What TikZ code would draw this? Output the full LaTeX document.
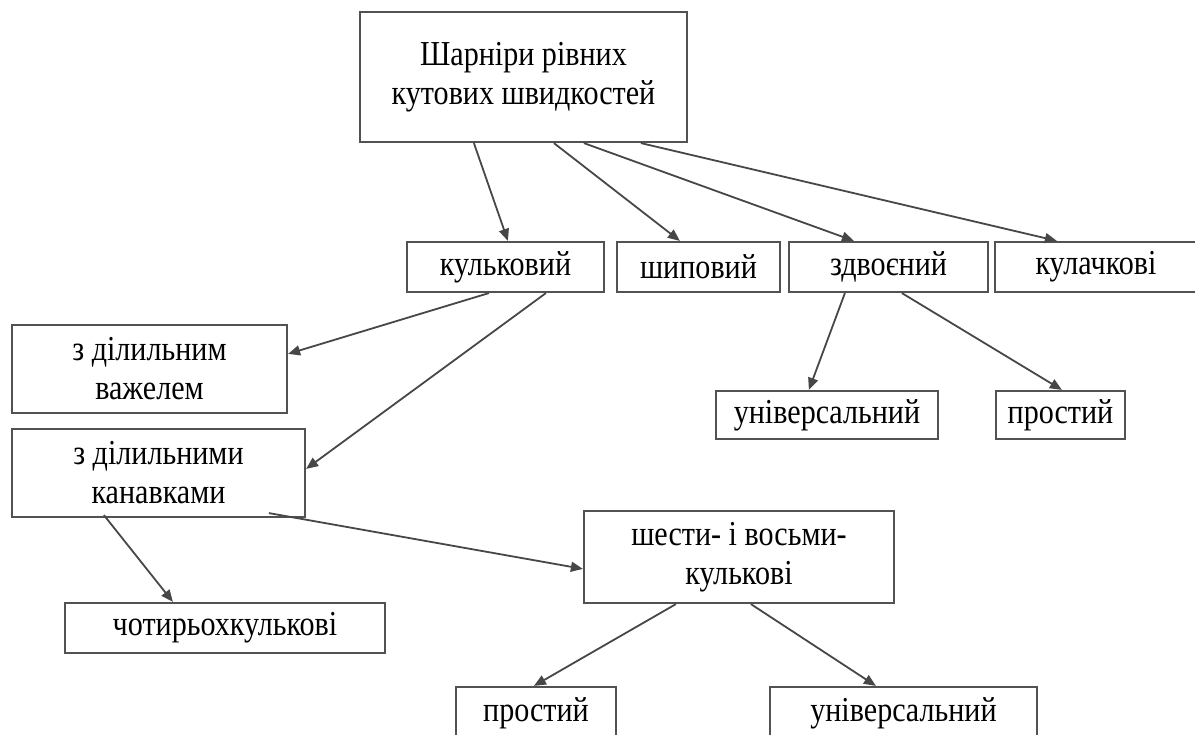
\documentclass[tikz,border=0pt]{standalone}
\usepackage{fontspec}
\setmainfont{Liberation Serif}[FakeStretch=0.86]
\usetikzlibrary{arrows.meta}
\begin{document}
\begin{tikzpicture}[x=1pt,y=-1pt,
  box/.style={draw=black!68, line width=2.2pt, fill=white, inner sep=0pt, align=center,
    font=\fontsize{35}{39}\selectfont},
  arr/.style={draw=black!72, line width=1.8pt, -{Triangle[length=12pt,width=10pt]}}]
\useasboundingbox (0,0) rectangle (1195,735);
% nodes
\node[box, minimum width=327pt, minimum height=130pt] (top) at (523.5,77) {Шарніри рівних\\кутових швидкостей};
\node[box, minimum width=197pt, minimum height=50pt] (kul) at (505.5,267) {кульковий};
\node[box, minimum width=163pt, minimum height=50pt] (ship) at (698.5,267) {шиповий};
\node[box, minimum width=199pt, minimum height=50pt] (zdv) at (888.5,267) {здвоєний};
\node[box, minimum width=202pt, minimum height=50pt] (kulach) at (1096,267) {кулачкові};
\node[box, minimum width=275pt, minimum height=88pt] (vazh) at (149.5,369) {з ділильним\\важелем};
\node[box, minimum width=293pt, minimum height=88pt] (kanav) at (158.5,473) {з ділильними\\канавками};
\node[box, minimum width=222pt, minimum height=48pt] (univR) at (827,415) {універсальний};
\node[box, minimum width=129pt, minimum height=48pt] (prostR) at (1060.5,415) {простий};
\node[box, minimum width=310pt, minimum height=92pt] (shesti) at (739,557) {шести- і восьми-\\кулькові};
\node[box, minimum width=320pt, minimum height=50pt] (chotyr) at (225,628) {чотирьохкулькові};
\node[box, minimum width=160pt, minimum height=53pt] (prostB) at (536,713.5) {простий};
\node[box, minimum width=267pt, minimum height=53pt] (univB) at (903.5,713.5) {універсальний};
% connectors
\draw[arr] ([xshift=115pt]top.south west) -- ([xshift=102pt]kul.north west);
\draw[arr] ([xshift=195pt]top.south west) -- ([xshift=64pt]ship.north west);
\draw[arr] ([xshift=225pt]top.south west) -- ([xshift=66pt]zdv.north west);
\draw[arr] ([xshift=282pt]top.south west) -- ([xshift=63pt]kulach.north west);
\draw[arr] ([xshift=83pt]kul.south west) -- ([yshift=-30pt]vazh.north east);
\draw[arr] ([xshift=140pt]kul.south west) -- ([yshift=-41pt]kanav.north east);
\draw[arr] ([xshift=57pt]zdv.south west) -- ([xshift=94pt]univR.north west);
\draw[arr] ([xshift=114pt]zdv.south west) -- ([xshift=67pt]prostR.north west);
\draw[arr] ([xshift=93pt,yshift=3pt]kanav.south west) -- ([xshift=109pt]chotyr.north west);
\draw[arr] ([xshift=258pt,yshift=5pt]kanav.south west) -- ([yshift=-59pt]shesti.north west);
\draw[arr] ([xshift=93pt]shesti.south west) -- ([xshift=79pt]prostB.north west);
\draw[arr] ([xshift=168pt]shesti.south west) -- ([xshift=107pt]univB.north west);
\end{tikzpicture}
\end{document}
